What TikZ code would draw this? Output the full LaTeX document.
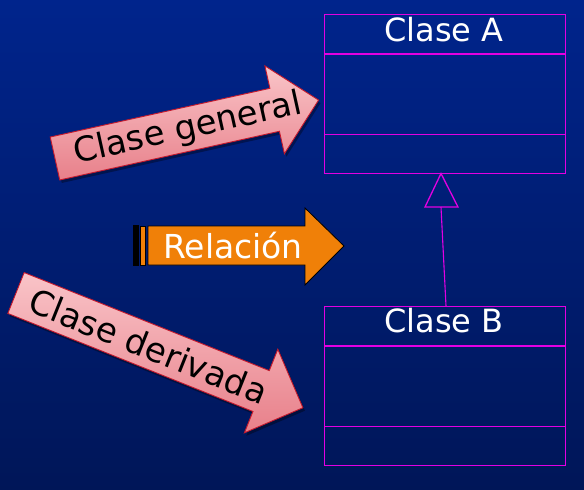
\documentclass[tikz,border=0pt]{standalone}
\usepackage{fontspec}
\setmainfont{DejaVu Sans}
\usetikzlibrary{shadows}
\definecolor{bgtop}{RGB}{0,36,140}
\definecolor{bgbot}{RGB}{0,22,88}
\definecolor{umlmag}{RGB}{226,0,226}
\definecolor{pinkL}{RGB}{249,196,200}
\definecolor{pinkD}{RGB}{232,128,138}
\definecolor{pinkB}{RGB}{196,24,44}
\definecolor{orng}{RGB}{240,128,8}
\begin{document}
\begin{tikzpicture}[x=1pt,y=-1pt,
  classbox/.style={draw=umlmag, line width=1.3pt, anchor=north west, minimum width=241pt, minimum height=159pt, inner sep=0pt},
  umlline/.style={draw=umlmag, line width=1.3pt},
  classtitle/.style={text=white, font=\fontsize{32}{38}\selectfont, anchor=base, inner sep=0pt},
  pinkarrow/.style={draw=pinkB, line width=0.9pt, top color=pinkL, bottom color=pinkD, line join=miter,
     drop shadow={shadow xshift=2pt, shadow yshift=-3pt, opacity=0.35, fill=black}},
  pinktext/.style={text=black, font=\fontsize{34}{40}\selectfont, inner sep=0pt},
  orangebox/.style={draw=black, line width=0.8pt, fill=orng, line join=miter}
]
\useasboundingbox (0,0) rectangle (584,490);
\shade[top color=bgtop, bottom color=bgbot] (0,0) rectangle (584,490);

% Class A
\node[classbox] (A) at (324,14) {};
\draw[umlline] ([yshift=-40pt]A.north west) -- ([yshift=-40pt]A.north east);
\draw[umlline] ([yshift=40pt]A.south west) -- ([yshift=40pt]A.south east);
\node[classtitle] (At) at (444,41) {Clase A};

% Class B
\node[classbox] (B) at (324,306) {};
\draw[umlline] ([yshift=-40pt]B.north west) -- ([yshift=-40pt]B.north east);
\draw[umlline] ([yshift=40pt]B.south west) -- ([yshift=40pt]B.south east);
\node[classtitle] (Bt) at (444,332) {Clase B};

% Inheritance
\coordinate (apex) at (441,173.5);
\coordinate (tl) at (425,207);
\coordinate (tr) at (458,207);
\coordinate (tb) at (441,207);
\coordinate (bt) at (446,306);
\draw[umlline, line join=miter] (apex) -- (tr) -- (tl) -- cycle;
\draw[umlline, line width=1.1pt] (bt) -- (tb);

% Relacion arrow
\fill[black] (133,225) rectangle (139,266);
\draw[orangebox] (140,226) rectangle (145,265);
\draw[orangebox] (148,226) -- (305,226) -- (305,208) -- (344,246) -- (305,285) -- (305,265) -- (148,265) -- cycle;
\node[text=white, font=\fontsize{33}{40}\selectfont, anchor=base, inner sep=0pt] (rel) at (233,258) {Relación};

% Clase general arrow
\begin{scope}[shift={(55,158.5)}, rotate=12.5]
\path[pinkarrow] (0,-22) -- (225,-22) -- (225,-45) -- (270,0) -- (225,45) -- (225,22) -- (0,22) -- cycle;
\node[pinktext, rotate=12.5] (cg) at (136,0) {Clase general};
\end{scope}

% Clase derivada arrow
\begin{scope}[shift={(16,293)}, rotate=-21.8]
\path[pinkarrow] (0,-22) -- (264,-22) -- (264,-45) -- (309,0) -- (264,45) -- (264,22) -- (0,22) -- cycle;
\node[pinktext, rotate=-21.8] (cd) at (143,0) {Clase derivada};
\end{scope}
\end{tikzpicture}
\end{document}
